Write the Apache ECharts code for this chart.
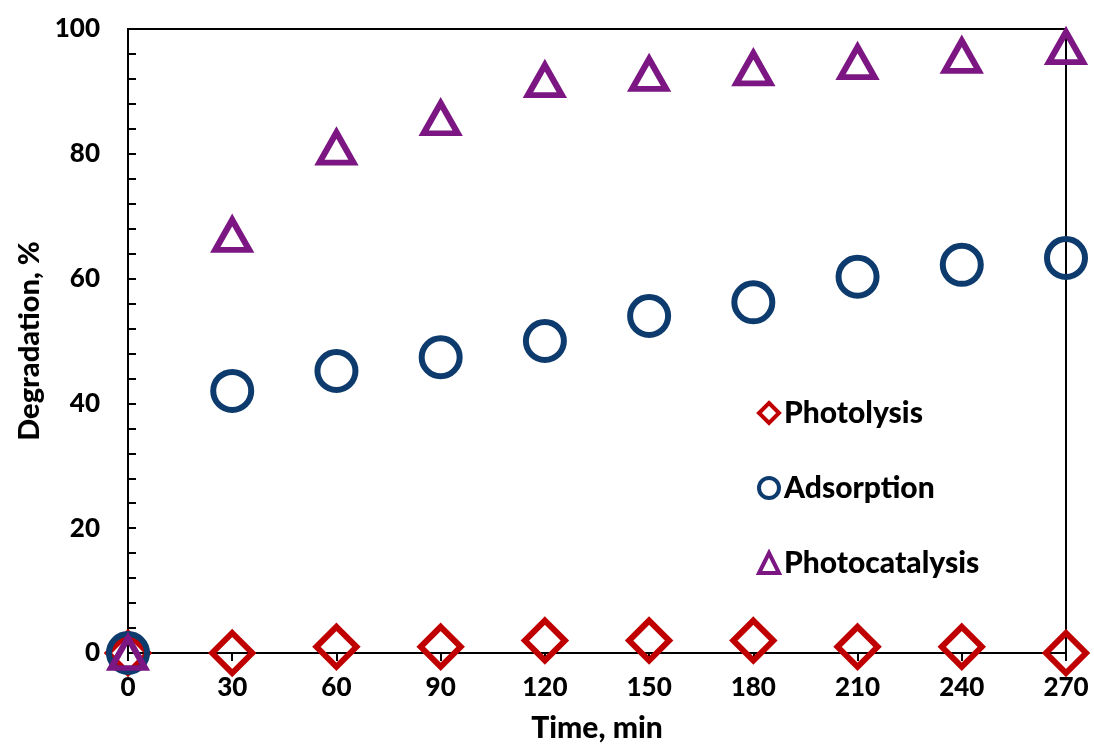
<!DOCTYPE html>
<html><head><meta charset="utf-8">
<script src="https://cdn.jsdelivr.net/npm/echarts@6/dist/echarts.min.js"></script>
<style>html,body{margin:0;padding:0;background:#fff}#c{width:1094px;height:745px}</style>
</head><body><div id="c"></div>
<script>
const times = [0, 30, 60, 90, 120, 150, 180, 210, 240, 270];
const photolysis = [0, 0, 1, 1, 2, 2, 2, 1, 1, 0];
const adsorption = [0, 42, 45.2, 47.4, 50, 54, 56.2, 60.3, 62.2, 63.3];
const photocatalysis = [0, 67, 81, 85.7, 91.8, 92.8, 93.7, 94.7, 95.7, 97.1];
const seriesNames = ['Photolysis', 'Adsorption', 'Photocatalysis'];
const xTitle = 'Time, min';
const yTitle = 'Degradation, %';

const font = 'Lato, "Open Sans", sans-serif';
const txt = (size) => ({ fontFamily: font, fontWeight: 900, fontSize: size, color: '#000' });
const pairs = a => times.map((t, i) => [t, a[i]]);
const chart = echarts.init(document.getElementById('c'));
chart.setOption({
  animation: false,
  backgroundColor: '#fff',
  grid: { left: 128, right: 28, top: 29, bottom: 92, show: true, borderColor: '#000', borderWidth: 2, backgroundColor: 'transparent', outerBoundsMode: 'none', containLabel: false },
  legend: {
    orient: 'vertical', left: 752, top: 393, itemGap: 45, itemWidth: 20, itemHeight: 20,
    data: seriesNames,
    textStyle: txt(30),
    itemStyle: { borderWidth: 4, opacity: 1 }
  },
  xAxis: {
    type: 'value', min: 0, max: 270, interval: 30,
    name: xTitle, nameLocation: 'middle', nameGap: 60,
    nameTextStyle: txt(30),
    axisLine: { show: true, lineStyle: { color: '#000', width: 2 } },
    axisTick: { show: true, inside: false, length: 8, lineStyle: { color: '#000', width: 2 } },
    axisLabel: Object.assign(txt(26), { margin: 22 }),
    splitLine: { show: false }
  },
  yAxis: {
    type: 'value', min: 0, max: 100, interval: 20,
    name: yTitle, nameLocation: 'middle', nameGap: 84, nameRotate: 90,
    nameTextStyle: txt(29),
    axisLine: { show: true, lineStyle: { color: '#000', width: 2 } },
    axisTick: { show: true, inside: true, length: 8, lineStyle: { color: '#000', width: 2 } },
    minorTick: { show: true, splitNumber: 5, length: 8, lineStyle: { color: '#000', width: 2 } },
    axisLabel: Object.assign(txt(26), { margin: 28 }),
    splitLine: { show: false }
  },
  series: [
    { name: seriesNames[0], type: 'scatter', data: pairs(photolysis), symbol: 'diamond', symbolSize: [40, 40], clip: false,
      itemStyle: { color: 'rgba(255,255,255,0)', borderColor: '#C00000', borderWidth: 6, opacity: 1 } },
    { name: seriesNames[1], type: 'scatter', data: pairs(adsorption), symbol: 'circle', symbolSize: 38, clip: false,
      itemStyle: { color: 'rgba(255,255,255,0)', borderColor: '#0E3B6E', borderWidth: 6, opacity: 1 } },
    { name: seriesNames[2], type: 'scatter', data: pairs(photocatalysis), symbol: 'triangle', symbolSize: [34, 30], clip: false,
      itemStyle: { color: 'rgba(255,255,255,0)', borderColor: '#7B1682', borderWidth: 6, opacity: 1 } }
  ]
});
</script></body></html>
